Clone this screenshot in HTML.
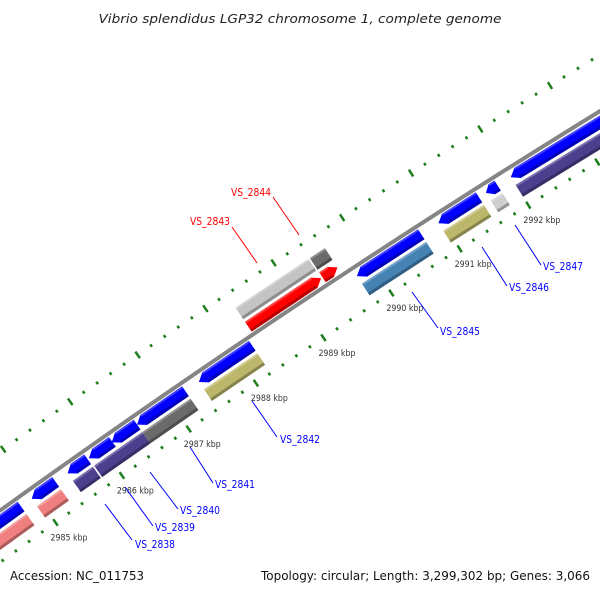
<!DOCTYPE html>
<html><head><meta charset="utf-8"><style>
html,body{margin:0;padding:0;background:#fff;width:600px;height:600px;overflow:hidden;}
svg{display:block;overflow:hidden;}
text{font-family:"DejaVu Sans","Liberation Sans",sans-serif;}
</style></head><body>
<svg id="map" width="600" height="600" viewBox="0 0 600 600" xmlns="http://www.w3.org/2000/svg">
<rect width="600" height="600" fill="#fff"/>
<text x="300" y="23" text-anchor="middle" font-size="12" font-style="italic" fill="#222" textLength="403" lengthAdjust="spacingAndGlyphs">Vibrio splendidus LGP32 chromosome 1, complete genome</text>
<g id="ticks"></g>
<g id="backbone"></g>
<g id="features"></g>
<g id="labels"></g>
<text x="10" y="580" font-size="12" fill="#111" textLength="134" lengthAdjust="spacingAndGlyphs">Accession: NC_011753</text>
<text x="590" y="580" text-anchor="end" font-size="12" fill="#111" textLength="329" lengthAdjust="spacingAndGlyphs">Topology: circular; Length: 3,299,302 bp; Genes: 3,066</text>
</svg>
<script>
const geneNames = ["VS_2836","VS_2837","VS_2838","VS_2839","VS_2840","VS_2841","VS_2842","VS_2843","VS_2844","VS_2845","VS_2846","VS_2847","VS_2848"];
const geneStarts = [2983.9,2984.93,2985.47,2985.79,2986.13,2986.51,2987.43,2988.31,2989.40,2989.76,2990.95,2991.64,2992.0];
const geneEnds   = [2984.77,2985.29,2985.77,2986.14,2986.51,2987.23,2988.22,2989.38,2989.62,2990.70,2991.54,2991.81,2994.8];
const geneStrand = [-1,-1,-1,-1,-1,-1,-1,1,1,-1,-1,-1,-1];
const cogColors  = ["#f08080","#f08080","#4b3f8e","#4b3f8e","#4b3f8e","#6b6b6b","#bdb76b","#c4c4c4","#6b6b6b","#4682b4","#bdb76b","#cfcfcf","#4b3f8e"];
const tickStart = 2983, tickEnd = 2995;
const majorLabels = [2985,2986,2987,2988,2989,2990,2991,2992];

const labelNames = ["VS_2838","VS_2839","VS_2840","VS_2841","VS_2842","VS_2843","VS_2844","VS_2845","VS_2846","VS_2847"];
const labelLines = [[105,504,132,540],[125,487,153,526],[150,472,178,509],[190,447,213,483],[252,401,277,437],[257,263,232,227],[299,235,273,197],[412,292,438,328],[482,247,507,286],[515,225,541,265]];
const labelText = [[135,548,"start"],[155,531,"start"],[180,514,"start"],[215,488,"start"],[280,443,"start"],[230,225,"end"],[271,196,"end"],[440,335,"start"],[509,291,"start"],[543,270,"start"]];

const NS="http://www.w3.org/2000/svg";
const CX=5750, CY=8497, R0=9841, A0=-125.53, DPK=0.4757;
function pt(k,off){const a=(A0+(k-2985)*DPK)*Math.PI/180;const r=R0+off;return [CX+r*Math.cos(a),CY+r*Math.sin(a)];}
function P(a){return a.map(p=>p[0].toFixed(2)+","+p[1].toFixed(2)).join(" ");}
function mk(tag,parent,attrs){const e=document.createElementNS(NS,tag);for(const k in attrs)e.setAttribute(k,attrs[k]);parent.appendChild(e);return e;}

// backbone
const bb=document.getElementById("backbone");
const bpts=[];for(let k=2983;k<=2995;k+=0.5)bpts.push(pt(k,0));
const bl=mk("polyline",bb,{points:P(bpts),fill:"none",stroke:"#858585","stroke-width":4});



// ticks
const tg=document.getElementById("ticks");
for(let i=0;i<=(tickEnd-tickStart)*5;i++){
  const k=tickStart+i*0.2;const major=(i%5===0);
  [-42,48].forEach(c=>{
    const h=major?4:1.5;
    const a=pt(k,c-h),b=pt(k,c+h);
    const l=mk("line",tg,{x1:a[0],y1:a[1],x2:b[0],y2:b[1],stroke:"#1d7f1d","stroke-width":2.5});
    
    
  });
}
majorLabels.forEach(k=>{
  const p=pt(k,-42);
  const t=mk("text",tg,{x:p[0]-5,y:p[1]+18,"font-size":9,fill:"#333",textLength:37,lengthAdjust:"spacingAndGlyphs"});
  t.textContent=k+" kbp";
  
  
});

// features
const fg=document.getElementById("features");
function band(k1,k2,o1,o2,tip,fill,name){
  const h=Math.min(0.1,(k2-k1)/2);
  let pts;
  if(tip===-1)pts=[pt(k1+h,o1),pt(k2,o1),pt(k2,o2),pt(k1+h,o2),pt(k1,(o1+o2)/2)];
  else if(tip===1)pts=[pt(k1,o1),pt(k2-h,o1),pt(k2,(o1+o2)/2),pt(k2-h,o2),pt(k1,o2)];
  else pts=[pt(k1,o1),pt(k2,o1),pt(k2,o2),pt(k1,o2)];
  const g=mk("g",fg,{});
  
  
  mk("polygon",g,{points:P(pts),fill:fill});
  const lo=Math.min(o1,o2);const a1=tip===-1?k1+h:k1, a2=tip===1?k2-h:k2;
  mk("polygon",g,{points:P([pt(a1,lo),pt(a2,lo),pt(a2,lo+3),pt(a1,lo+3)]),fill:"#000","fill-opacity":0.28});
  const hi=Math.max(o1,o2);
  mk("polygon",g,{points:P([pt(a1,hi-2),pt(a2,hi-2),pt(a2,hi),pt(a1,hi)]),fill:"#fff","fill-opacity":0.25});
}
for(let i=0;i<geneNames.length;i++){
  const s=geneStrand[i];
  if(s<0){
    band(geneStarts[i],geneEnds[i],-3,-15,-1,"#0000ff",geneNames[i]+"-gene");
    band(geneStarts[i],geneEnds[i],-18,-32,0,cogColors[i],geneNames[i]+"-cog");
  } else {
    band(geneStarts[i],geneEnds[i],3,15,1,"#ff0000",geneNames[i]+"-gene");
    band(geneStarts[i],geneEnds[i],18,32,0,cogColors[i],geneNames[i]+"-cog");
  }
}

// labels
const lg=document.getElementById("labels");
labelNames.forEach((n,i)=>{
  const red=(n==="VS_2843"||n==="VS_2844");const c=red?"#ff0000":"#0000ff";
  const L=labelLines[i];
  const l=mk("line",lg,{x1:L[0],y1:L[1],x2:L[2],y2:L[3],stroke:c,"stroke-width":1});
  
  
  const T=labelText[i];
  const t=mk("text",lg,{x:T[0],y:T[1],"text-anchor":T[2],"font-size":11,fill:c,textLength:40,lengthAdjust:"spacingAndGlyphs"});
  t.textContent=n;
  
  
});
</script>
</body></html>
